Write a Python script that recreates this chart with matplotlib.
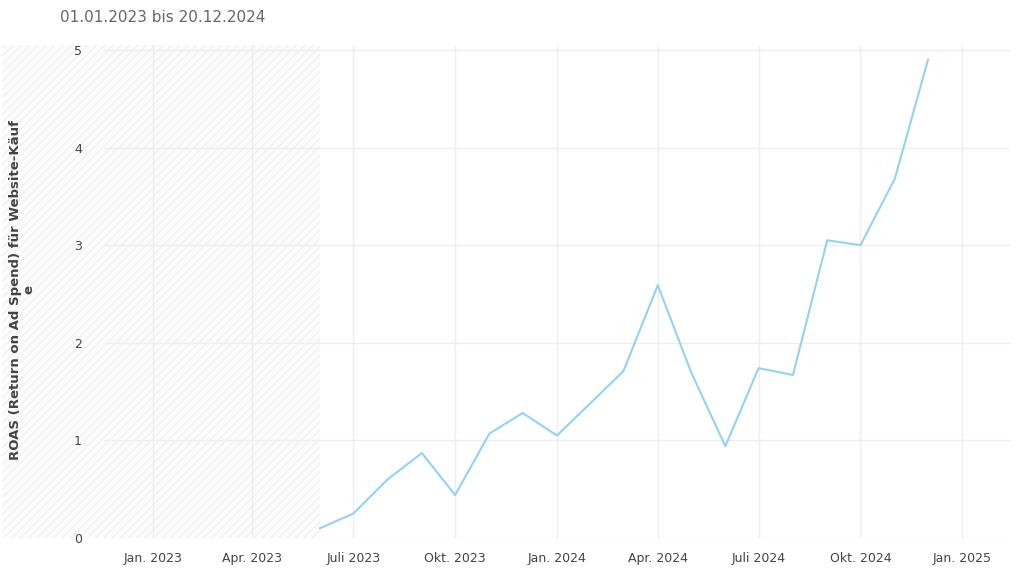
import matplotlib
matplotlib.use('Agg')
import matplotlib.pyplot as plt
from matplotlib.patches import Rectangle
import datetime as dt

# monthly ROAS values, Jun 2023 - Dec 2024
months = [dt.date(2023, m, 1) for m in range(6, 13)] + [dt.date(2024, m, 1) for m in range(1, 13)]
roas = [0.10, 0.25, 0.60, 0.87, 0.44, 1.07, 1.28, 1.05, 1.39, 1.71, 2.59, 1.70,
        0.94, 1.74, 1.67, 3.05, 3.00, 3.68, 4.90]
tick_dates = [dt.date(2023, 1, 1), dt.date(2023, 4, 1), dt.date(2023, 7, 1), dt.date(2023, 10, 1),
              dt.date(2024, 1, 1), dt.date(2024, 4, 1), dt.date(2024, 7, 1), dt.date(2024, 10, 1),
              dt.date(2025, 1, 1)]
tick_labels = ['Jan. 2023', 'Apr. 2023', 'Juli 2023', 'Okt. 2023', 'Jan. 2024',
               'Apr. 2024', 'Juli 2024', 'Okt. 2024', 'Jan. 2025']

W, H = 1024, 578
L, R, T, B = 104, 1010, 45, 538
fig = plt.figure(figsize=(W / 100, H / 100), dpi=100)
ax = fig.add_axes([L / W, 1 - B / H, (R - L) / W, (B - T) / H])

# hatched "no data" area, extends left past the axes
x_hatch_end = 320
hatch = Rectangle(((2 - L) / (R - L), 0), (x_hatch_end - 2) / (R - L), 1,
                  transform=ax.transAxes, facecolor='#fcfcfc', edgecolor='#f1f1f1',
                  hatch='////', linewidth=0, zorder=-1, clip_on=False)
ax.add_patch(hatch)
ax.set_axisbelow(True)

ax.plot(months, roas, color='#94d2f5', linewidth=1.5, zorder=3)

ax.set_xlim(dt.date(2022, 11, 18), dt.date(2025, 2, 13))
ax.set_ylim(0, 5.05)
ax.set_yticks([0, 1, 2, 3, 4, 5])
ax.set_xticks(tick_dates)
ax.set_xticklabels(tick_labels)
ax.grid(True, color='#eeeeee', linewidth=1)
for s in ax.spines.values():
    s.set_visible(False)
ax.tick_params(length=0, colors='#444444', labelsize=9)
ax.tick_params(axis='x', pad=10)
ax.tick_params(axis='y', pad=16)

fig.text(22 / W, 1 - 290 / H, 'ROAS (Return on Ad Spend) für Website-Käuf\ne',
         rotation=90, ha='center', va='center', fontsize=9.5, fontweight='bold',
         color='#444444', multialignment='center', linespacing=1.0)
fig.text(60 / W, 1 - 18 / H, '01.01.2023 bis 20.12.2024', ha='left', va='center',
         fontsize=11, color='#666666')

fig.savefig('out.png', dpi=100)
